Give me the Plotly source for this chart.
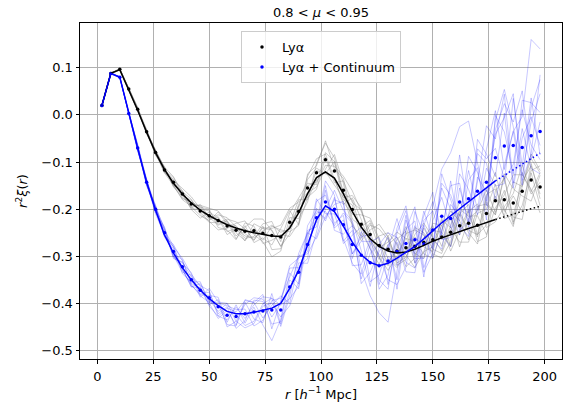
import plotly.graph_objects as go

# ---------------- data ----------------
r_bins = [2, 6, 10, 14, 18, 22, 26, 30, 34, 38, 42, 46, 50, 54, 58, 62, 66, 70, 74, 78,
          82, 86, 90, 94, 98, 102, 106, 110, 114, 118, 122, 126, 130, 134, 138, 142, 146, 150, 154, 158,
          162, 166, 170, 174, 178, 182, 186, 190, 194, 198]

lya_mean = [0.020, 0.088, 0.097, 0.055, 0.012, -0.036, -0.080, -0.117, -0.143, -0.168,
            -0.189, -0.204, -0.214, -0.224, -0.236, -0.245, -0.247, -0.246, -0.251, -0.256,
            -0.259, -0.228, -0.205, -0.155, -0.123, -0.095, -0.119, -0.160, -0.201, -0.232,
            -0.254, -0.277, -0.285, -0.289, -0.282, -0.279, -0.270, -0.265, -0.259, -0.249,
            -0.235, -0.230, -0.234, -0.209, -0.182, -0.180, -0.187, -0.162, -0.138, -0.153]

lya_fit = [0.020, 0.088, 0.096, 0.054, 0.010, -0.037, -0.080, -0.116, -0.145, -0.168,
           -0.187, -0.202, -0.214, -0.224, -0.233, -0.240, -0.246, -0.250, -0.254, -0.257,
           -0.258, -0.240, -0.208, -0.167, -0.133, -0.121, -0.134, -0.167, -0.205, -0.238,
           -0.263, -0.279, -0.289, -0.293, -0.291, -0.285, -0.277, -0.268, -0.261, -0.254,
           -0.247, -0.241, -0.235, -0.228, -0.222, -0.216, -0.210, -0.205, -0.199, -0.194]

cont_mean = [0.020, 0.088, 0.080, 0.003, -0.070, -0.143, -0.200, -0.250, -0.290, -0.322,
             -0.350, -0.372, -0.388, -0.407, -0.425, -0.428, -0.422, -0.418, -0.416, -0.414,
             -0.414, -0.365, -0.334, -0.275, -0.218, -0.185, -0.200, -0.233, -0.275, -0.298,
             -0.314, -0.320, -0.310, -0.290, -0.273, -0.265, -0.274, -0.244, -0.215, -0.220,
             -0.185, -0.178, -0.162, -0.143, -0.091, -0.066, -0.065, -0.069, -0.044, -0.035]

cont_fit = [0.020, 0.088, 0.080, 0.002, -0.070, -0.143, -0.202, -0.255, -0.293, -0.324,
            -0.350, -0.372, -0.390, -0.405, -0.417, -0.422, -0.422, -0.419, -0.415, -0.410,
            -0.400, -0.368, -0.330, -0.276, -0.222, -0.193, -0.205, -0.236, -0.270, -0.297,
            -0.313, -0.320, -0.315, -0.304, -0.292, -0.279, -0.263, -0.245, -0.229, -0.214,
            -0.199, -0.184, -0.169, -0.155, -0.140, -0.128, -0.116, -0.104, -0.092, -0.081]

# individual mocks, read as offsets from the mean (units of 1e-3)
lya_mock_offsets = [
    [1, 0, 2, -1, 2, -3, 4, -2, 6, -8, 3, 10, -5, 12, 18, 8, -10, -15, 5, 22, 10, -15, 8, 25, 30, 12, -18, -25, -10, 20, 35, 15, -20, -35, -10, 25, 40, 5, -30, 15, 50, 20, -25, 35, 60, -20, -50, 10, 45, 30],
    [-1, 1, -2, 0, -4, 2, -6, 5, -10, -4, 8, -2, -12, -20, -5, 15, 22, -8, -18, -45, -30, 10, -15, -30, 20, 35, 28, -5, 20, -15, -30, -40, 10, 30, -15, -45, -20, 35, 25, -40, -10, 30, -35, -50, 20, 45, -30, -60, 15, -40],
    [0, -1, 1, 2, 3, 5, -2, -6, 4, 12, 15, 5, 10, -8, 12, -12, 8, 25, 30, 10, -20, -25, 15, 5, -20, -12, 10, 30, 40, 25, 5, -25, -45, -10, 20, 10, -25, -40, 15, 45, 10, -35, 40, 20, -30, 55, 30, -10, -45, 25],
    [1, 2, -1, -2, -2, 0, 6, 3, -5, 2, -12, -15, 8, 5, -18, 3, -5, -20, 12, 15, 25, 30, 20, -10, -30, -20, 35, 15, -30, -35, 10, 45, 25, -20, 30, 35, 15, -30, -45, -20, 35, 15, 20, -45, -15, 10, 60, 35, -20, -55],
    [0, 1, 0, 1, -3, 4, 2, 7, -8, -10, 4, 8, 14, -15, -8, -20, 18, 10, -22, -10, 5, -30, -25, 18, 10, -30, -15, -30, 25, 10, -20, 20, 35, 15, -40, -25, 30, -10, 35, 10, -35, -40, 25, 10, 35, -40, -25, 20, 30, -15],
    [-1, 0, 1, 2, 4, -2, -4, 0, 10, 6, -6, -10, -10, 18, 5, 10, -15, -12, 20, 30, -10, 20, 30, 10, -25, 15, 20, -10, -35, -25, 25, -5, 15, 40, 20, -15, -35, 20, 10, -30, 25, 40, -20, -25, 10, -35, 45, 10, 55, 35],
    [0, -2, -1, 1, -1, -5, 3, -4, -3, 7, -8, 14, -3, -10, 10, -18, 12, -25, -10, -20, 18, 25, -28, -20, -35, 5, -25, 20, 15, 30, -10, -20, -30, 5, 45, -20, 10, 30, -20, 35, -45, 10, 30, 50, -25, 20, -45, 40, -30, 10],
    [-1, -1, -2, -1, -2, 3, -5, 6, 12, -2, -10, 3, -8, 8, -12, 5, -20, 15, 10, 12, -20, -10, 12, -20, 5, -30, 20, -20, 10, -30, 20, 35, 20, -25, -20, 20, -10, -25, 40, -30, 25, -20, -40, 25, -30, 50, -40, -30, 20, 45],
    [0, 1, -1, 0, 2, -2, 5, 4, -6, -12, -5, 12, 16, 20, 10, -5, -20, 5, -15, 20, 15, -20, -30, 30, 15, 40, 5, 25, -20, -5, 30, 10, -35, 25, 35, -35, -20, -15, 25, 30, -20, 25, 45, -30, -45, -15, 20, 55, -25, 30],
    [-1, 0, 0, 1, -1, 1, 2, -6, -7, 5, 10, -6, -14, -5, 15, 18, 5, -20, 15, -30, -25, -5, 25, -25, -15, -25, -30, -15, 30, 35, -15, -30, 30, -30, -25, 40, 20, -20, -35, 5, 30, -15, -20, 40, 25, -25, 15, -45, 35, -25],
]

cont_mock_offsets = [
    [1, -1, 2, -2, 5, -8, 3, 10, -12, 8, 15, -10, 5, 20, -15, 25, -20, 10, -30, -65, -20, 30, -25, 40, 15, -35, 20, 45, -30, 50, -40, -20, 35, -60, 30, 70, -50, -30, 60, 20, -70, 40, 50, -80, 90, 30, -60, 100, 70, 40],
    [-1, 2, -1, 3, -6, 4, -10, -5, 10, -15, -5, 18, -12, -25, 10, -18, 30, 20, -15, 10, 30, -35, 20, -40, -30, 25, -45, -20, 40, -30, -70, -100, -130, -40, 50, -20, 60, 80, -40, -60, 30, -50, 80, 40, -90, -40, 30, 65, 204, 175],
    [0, 1, -2, 1, 8, 5, -6, 12, -8, -12, 10, -15, 20, 10, 25, 5, -25, -20, 15, 25, -35, -20, 40, 25, -10, 45, 30, -40, 20, 60, 30, -30, -60, 40, 70, -40, -30, 50, 100, 140, 160, 165, 60, -40, 80, 120, 40, -60, 30, 80],
    [1, 0, 1, -1, -4, -6, 8, -8, 15, 12, -8, 5, -15, 15, -25, -10, 20, 30, 25, -15, 15, 40, 10, -30, 35, 15, -30, 20, -45, -20, 50, 20, -40, -70, -50, 60, 20, -60, -30, 70, 40, -60, 20, 120, 40, 110, -80, 40, -70, -90],
    [-1, -2, 0, 2, 3, 7, -4, -2, -5, 15, -12, -8, 12, -15, 18, -25, -15, 25, 20, -30, -25, 15, -35, 10, 40, -25, -10, -35, 30, -50, 20, 45, 60, 30, -40, -60, 50, 40, -50, -40, 60, 20, -50, 30, -60, -80, 100, -40, 80, -50],
    [0, 0, 1, -3, -5, 3, 6, 5, 12, -5, -15, 14, -8, 8, 20, 15, 10, -30, -20, 20, 25, 20, 35, -20, -40, -15, 40, 30, 50, 10, -50, 40, 25, 70, -20, 30, -70, 20, 40, -20, 100, -30, 90, 50, 20, -70, -40, 80, -20, -60],
    [1, -1, -1, 0, 2, -4, -8, 8, -15, 10, 6, 10, 15, -20, -10, 20, -10, 15, 30, 25, 10, -25, -30, 30, -20, 35, -40, 10, -20, 40, 60, -40, 10, -30, 60, -50, 40, -40, 70, 50, -40, 90, 40, -50, 60, 90, 50, 120, -50, 20],
    [0, 2, 1, -2, -7, 6, 4, -10, 6, -8, -10, -12, -10, 5, -20, -20, 25, -15, -25, 35, -30, -10, 30, -15, 20, -40, 25, -30, -40, -40, 40, -50, -30, 50, 80, -30, 70, -20, -70, 30, -30, 60, -40, 70, 100, -50, 30, -80, 60, 110],
    [0, -1, 1, 2, 6, -5, 5, -6, 10, 18, 12, 8, -18, -20, 15, 10, 28, 20, 35, -40, 20, 45, 30, 25, -45, -30, 10, 50, -20, 30, 45, 60, -50, 20, -60, -70, 40, 60, -40, 80, -60, -50, 110, 60, -40, 70, -90, 20, 40, -30],
    [-1, 1, 0, -1, -3, -2, -5, 4, -10, -4, -15, 5, -5, -10, 25, -10, -30, -25, 10, 15, -15, -40, -20, 20, 10, -20, -35, 25, 45, -60, -20, 30, 50, -80, 30, 40, -60, -50, 90, 40, -50, -80, 30, -20, 50, 60, 110, -70, -40, 120],
]

fit_end_r = 178  # solid up to here, dotted beyond

FONT = "DejaVu Sans"

fig = go.Figure()

for offs in lya_mock_offsets:
    fig.add_trace(go.Scatter(
        x=r_bins, y=[m + d / 1000 for m, d in zip(lya_mean, offs)],
        mode="lines", line=dict(color="rgba(128,128,128,0.4)", width=1),
        showlegend=False, hoverinfo="skip"))

for offs in cont_mock_offsets:
    fig.add_trace(go.Scatter(
        x=r_bins, y=[m + d / 1000 for m, d in zip(cont_mean, offs)],
        mode="lines", line=dict(color="rgba(0,0,255,0.22)", width=1),
        showlegend=False, hoverinfo="skip"))

fig.add_trace(go.Scatter(x=r_bins, y=lya_mean, mode="markers", name="Lyα",
                         marker=dict(color="black", size=3.5)))
fig.add_trace(go.Scatter(x=r_bins, y=cont_mean, mode="markers", name="Lyα + Continuum",
                         marker=dict(color="blue", size=3.5)))

for fit, col in [(lya_fit, "black"), (cont_fit, "blue")]:
    xs = [r for r in r_bins if r <= fit_end_r]
    ys = [v for r, v in zip(r_bins, fit) if r <= fit_end_r]
    fig.add_trace(go.Scatter(x=xs, y=ys, mode="lines", line=dict(color=col, width=1.5),
                             showlegend=False, hoverinfo="skip"))
    xd = [r for r in r_bins if r >= fit_end_r]
    yd = [v for r, v in zip(r_bins, fit) if r >= fit_end_r]
    fig.add_trace(go.Scatter(x=xd, y=yd, mode="lines",
                             line=dict(color=col, width=1.5, dash="1.5px,2.5px"),
                             showlegend=False, hoverinfo="skip"))

axis_common = dict(
    showgrid=True, gridcolor="#b0b0b0", gridwidth=1,
    showline=True, mirror=True, linecolor="black", linewidth=1,
    ticks="outside", ticklen=3.5, tickwidth=1, tickcolor="black",
    zeroline=False, automargin=False,
    tickfont=dict(family=FONT, size=13, color="black"),
)

fig.update_layout(
    width=571, height=407,
    margin=dict(l=80, r=8.5, t=23, b=47.5),
    paper_bgcolor="white", plot_bgcolor="white",
    font=dict(family=FONT, size=13, color="black"),
    title=dict(text="0.8 &lt; <i>μ</i> &lt; 0.95", x=0.5, xref="paper", xanchor="center",
               y=1 - 12 / 407, yref="container", yanchor="middle",
               font=dict(family=FONT, size=13, color="black")),
    xaxis=dict(range=[-7.8, 207.8], tickvals=[0, 25, 50, 75, 100, 125, 150, 175, 200],
               ticklabelstandoff=2,
               title=dict(text="<i>r</i> [<i>h</i><sup>−1</sup> Mpc]", standoff=6,
                          font=dict(family=FONT, size=13)),
               **axis_common),
    yaxis=dict(range=[-0.518, 0.195], tick0=0, dtick=0.1, tickformat=".1f",
               title=dict(text="<i>r</i><sup>2</sup><i>ξ</i>(<i>r</i>)", standoff=10,
                          font=dict(family=FONT, size=13)),
               **axis_common),
    legend=dict(x=0.5, xanchor="center", y=0.976, yanchor="top",
                bgcolor="rgba(255,255,255,0.8)", bordercolor="#cccccc", borderwidth=1,
                font=dict(family=FONT, size=13, color="black")),
    showlegend=True,
)

fig.write_html("out.html", config={"displayModeBar": False},
               post_script="document.body.style.margin='0px';document.body.style.overflow='hidden';")
